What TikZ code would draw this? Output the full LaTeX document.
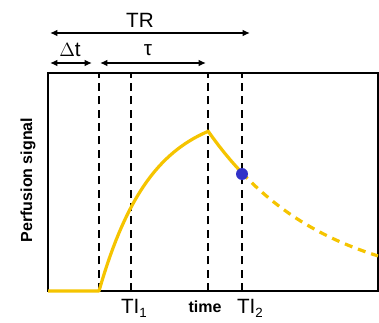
\documentclass[tikz,border=0pt]{standalone}
\usepackage{fontspec}
\setmainfont{Liberation Sans}
\usepackage{tikz}
\usetikzlibrary{arrows.meta}

\definecolor{curvegold}{RGB}{245,196,0}
\definecolor{dotblue}{RGB}{50,50,200}

\newcommand{\lowsub}[1]{\raisebox{-0.45ex}{\fontsize{10}{12}\selectfont #1}}

\tikzset{
  timeline/.style={line width=2pt, {Latex[length=5.5pt,width=5pt]}-{Latex[length=5.5pt,width=5pt]}},
  marker/.style={line width=2pt, dash pattern=on 6pt off 4pt},
  signal/.style={curvegold, line width=2.4pt, line join=round},
  lbl/.style={font=\fontsize{15.5}{18}\selectfont, inner sep=0pt},
  boldlbl/.style={font=\fontsize{12}{14}\selectfont\bfseries, inner sep=0pt}
}

\begin{document}
\begin{tikzpicture}[x=0.75pt, y=0.75pt]
    \useasboundingbox (0,0) rectangle (379,322);

    % Axes box
    \draw[line width=2pt] (48,31) rectangle (378,249);

    % Dashed markers
    \foreach \xm in {99,131,208,242}
        \draw[marker] (\xm,31) -- (\xm,249);

    % Timing arrows
    \draw[timeline] (50,289) -- (250,289);
    \node[lbl] (tr) at (140,302) {TR};
    \draw[timeline] (50,259) -- (92,259);
    \node[lbl] (dt) at (70,272) {$\Delta$t};
    \draw[timeline] (100,259) -- (206,259);
    \node[lbl] (tau) at (148,272) {τ};

    % Signal curve
    \draw[signal] (48,31) -- (99,31)
        -- plot[domain=99:208, samples=40] (\x, {31+182*(1-exp(-(\x-99)/52))})
        -- plot[domain=208:242, samples=15] (\x, {31+160*exp(-(\x-208)/112)});
    \draw[signal, dash pattern=on 6pt off 4.5pt]
        plot[domain=242:378, samples=40] (\x, {31+160*exp(-(\x-208)/112)});
    \fill[dotblue] (242,148) circle (4.5pt);

    % Axis labels
    \node[lbl, anchor=base] (ti1) at (134,9) {TI\lowsub{1}};
    \node[boldlbl, anchor=base] (time) at (205,10) {time};
    \node[lbl, anchor=base] (ti2) at (250,9) {TI\lowsub{2}};
    \node[boldlbl, rotate=90] (ylab) at (28,142) {Perfusion signal};
\end{tikzpicture}
\end{document}
